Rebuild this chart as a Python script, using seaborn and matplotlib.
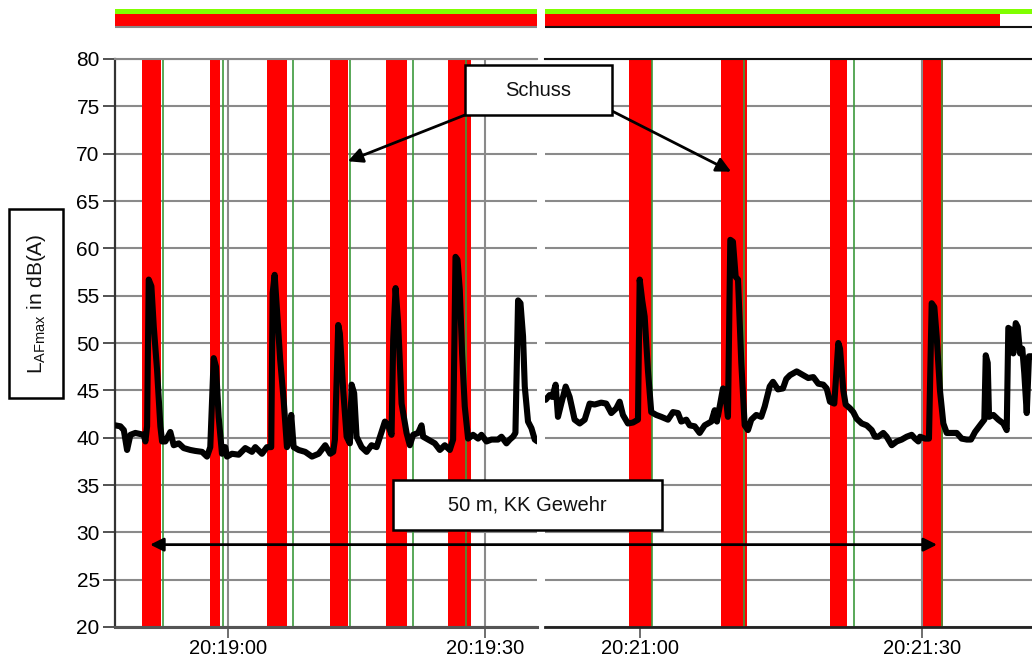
import matplotlib
matplotlib.use("Agg")
import matplotlib.pyplot as plt
import seaborn as sns
from matplotlib.patches import Rectangle, ConnectionPatch

# ---------------- data (seconds relative to the panel's first tick) ----------------
t_left = [-13.16, -12.57, -12.17, -11.79, -11.40, -10.82, -9.84, -9.65, -9.45, -9.26,
          -8.95, -8.67, -8.29, -7.90, -7.70, -7.32, -6.74, -6.34, -5.75, -5.17,
          -4.40, -3.82, -3.03, -2.45, -2.07, -1.67, -1.40, -1.09, -0.70, -0.32,
          -0.12, 0.47, 1.25, 2.02, 2.80, 3.19, 3.97, 4.55, 5.05, 5.22,
          5.45, 5.72, 6.10, 6.50, 6.89, 7.16, 7.39, 7.67, 8.25, 9.02,
          9.81, 10.59, 11.36, 11.94, 12.29, 12.49, 12.88, 13.07, 13.46, 13.86,
          14.24, 14.44, 14.74, 15.02, 15.61, 16.19, 16.77, 17.36, 17.94, 18.33,
          18.71, 19.11, 19.30, 19.58, 19.88, 20.28, 20.86, 21.24, 21.63, 22.21,
          22.61, 22.80, 23.38, 24.16, 24.75, 25.33, 25.91, 26.30, 26.58, 26.81,
          27.08, 27.35, 27.66, 28.05, 28.63, 29.22, 29.61, 30.20, 30.78, 31.55,
          31.95, 32.53, 32.92, 33.30, 33.58, 33.89, 34.17, 34.47, 34.67, 35.05,
          35.45, 35.84, 36.15]
db_left = [41.3, 41.2, 40.8, 38.7, 40.3, 40.5, 40.3, 39.6, 41.2, 56.7,
           56.0, 51.7, 47.2, 41.2, 39.6, 39.6, 40.6, 39.2, 39.4, 38.9,
           38.7, 38.6, 38.5, 38.0, 39.0, 48.4, 47.5, 42.2, 38.3, 39.0,
           38.0, 38.3, 38.2, 38.9, 38.5, 39.0, 38.3, 39.0, 39.0, 55.3,
           57.2, 53.5, 48.2, 44.0, 39.0, 39.8, 42.4, 39.0, 38.7, 38.5,
           38.0, 38.3, 39.2, 38.3, 38.5, 39.8, 51.9, 51.0, 45.0, 40.1,
           39.4, 45.6, 44.7, 40.1, 39.0, 38.5, 39.2, 39.0, 40.6, 41.7,
           41.3, 40.3, 50.3, 55.8, 52.1, 43.6, 40.5, 39.2, 40.3, 40.5,
           41.3, 40.1, 39.8, 39.4, 38.7, 39.2, 38.7, 39.8, 59.1, 58.8,
           55.6, 48.9, 43.3, 39.9, 40.3, 39.9, 40.3, 39.6, 39.8, 39.8,
           40.1, 39.4, 39.8, 40.1, 40.5, 54.5, 54.2, 50.7, 45.4, 41.7,
           41.0, 39.8, 39.6]

t_right = [-10.03, -9.61, -9.33, -8.97, -8.72, -8.37, -7.90, -7.48, -6.95, -6.41,
           -5.88, -5.35, -4.82, -4.12, -3.59, -3.05, -2.52, -2.16, -1.81, -1.28,
           -0.74, -0.21, -0.03, 0.24, 0.50, 0.85, 1.20, 1.73, 2.27, 2.98,
           3.51, 4.04, 4.39, 4.93, 5.29, 5.82, 6.35, 6.88, 7.59, 7.95,
           8.19, 8.83, 9.12, 9.36, 9.61, 9.89, 10.18, 10.43, 10.78, 11.14,
           11.49, 11.84, 12.37, 12.90, 13.27, 13.80, 14.15, 14.68, 15.21, 15.56,
           15.96, 16.67, 17.37, 17.90, 18.44, 18.97, 19.50, 19.86, 20.21, 20.67,
           21.10, 21.28, 21.63, 21.88, 22.34, 22.69, 23.05, 23.59, 24.12, 24.65,
           25.00, 25.35, 25.88, 26.24, 26.78, 27.31, 27.84, 28.37, 28.90, 29.26,
           29.61, 29.79, 30.32, 30.74, 31.03, 31.31, 31.56, 31.91, 32.27, 32.63,
           33.16, 33.69, 34.22, 34.76, 35.21, 35.64, 36.17, 36.63, 36.78, 36.99,
           37.13, 37.59, 38.12, 38.65, 39.01, 39.18, 39.47, 39.71, 39.97, 40.18,
           40.43, 40.67, 40.88, 41.14, 41.38, 41.67]
db_right = [44.0, 44.5, 44.3, 45.6, 42.2, 43.6, 45.4, 44.3, 41.9, 41.5,
            41.9, 43.6, 43.5, 43.7, 43.6, 42.6, 43.1, 43.8, 42.4, 41.5,
            41.6, 41.9, 56.7, 54.5, 52.8, 47.1, 42.7, 42.4, 42.2, 41.9,
            42.7, 42.6, 41.7, 41.9, 41.3, 41.2, 40.5, 41.3, 41.7, 42.9,
            41.7, 45.2, 44.3, 42.2, 60.9, 60.7, 57.0, 56.7, 47.9, 41.3,
            40.8, 41.9, 42.4, 42.2, 43.3, 45.4, 45.9, 45.1, 45.2, 46.2,
            46.6, 47.0, 46.6, 46.3, 46.4, 45.7, 45.6, 45.2, 43.8, 43.6,
            50.0, 49.4, 45.0, 43.5, 43.1, 42.7, 42.0, 41.5, 41.3, 40.8,
            40.1, 40.1, 40.5, 40.1, 39.2, 39.6, 39.8, 40.1, 40.3, 39.9,
            39.6, 40.1, 39.9, 39.9, 54.2, 53.8, 50.7, 45.0, 41.5, 40.5,
            40.5, 40.5, 39.9, 39.8, 39.8, 40.6, 41.3, 41.9, 48.7, 47.9,
            42.2, 42.4, 41.9, 41.5, 40.8, 51.6, 51.4, 48.9, 52.1, 51.7,
            48.9, 49.4, 46.8, 42.6, 48.6, 48.6]

shots_left = [(-10.04, -7.82), (-2.10, -0.93), (4.55, 6.89), (11.91, 14.01), (18.44, 20.89), (25.68, 28.37)]
marks_left = [-7.62, -0.62, 7.55, 14.28, 21.56, 27.86]
shots_right = [(-1.17, 1.24), (8.62, 11.41), (20.21, 21.99), (30.14, 32.20)]
marks_right = [1.28, 11.06, 22.80, 32.16]

ticks_left = [0, 30]
ticklabels_left = ["20:19:00", "20:19:30"]
ticks_right = [0, 30]
ticklabels_right = ["20:21:00", "20:21:30"]
yticks = [20, 25, 30, 35, 40, 45, 50, 55, 60, 65, 70, 75, 80]

xlim_left = (-13.2, 36.1)
xlim_right = (-10.1, 41.7)
status_red_end_right = 38.3

ylabel = r"$\mathregular{L_{AFmax}}$ in dB(A)"
label_shot = "Schuss"
label_setup = "50 m, KK Gewehr"

# ---------------- style ----------------
sns.set_style("white")
plt.rcParams['font.family'] = ['Liberation Sans', 'DejaVu Sans']
plt.rcParams['mathtext.fontset'] = 'custom'
plt.rcParams['mathtext.rm'] = 'Liberation Sans'
plt.rcParams['mathtext.it'] = 'Liberation Sans'

W, H = 1032, 662
fig = plt.figure(figsize=(W / 100, H / 100), dpi=100)
fig.patch.set_facecolor("white")


def fr(x0, y0, x1, y1):
    return [x0 / W, 1 - y1 / H, (x1 - x0) / W, (y1 - y0) / H]


axL = fig.add_axes(fr(115, 59, 537, 627))
axR = fig.add_axes(fr(545, 59, 1032, 627))

grid_col = "#8a8a8a"
for ax, t, d, shots, marks, xl, tk, tkl in [
    (axL, t_left, db_left, shots_left, marks_left, xlim_left, ticks_left, ticklabels_left),
    (axR, t_right, db_right, shots_right, marks_right, xlim_right, ticks_right, ticklabels_right),
]:
    ax.set_axisbelow(True)
    for a, b in shots:
        ax.axvspan(a, b, color="#ff0000", lw=0, zorder=1)
    for m in marks:
        ax.axvline(m, color="#3c9a3c", lw=1.2, zorder=1.5)
    sns.lineplot(x=t, y=d, ax=ax, color="black", lw=4.4, zorder=3, sort=False)
    ax.set_xlim(*xl)
    ax.set_ylim(20, 80)
    ax.set_yticks(yticks)
    ax.set_xticks(tk)
    ax.set_xticklabels(tkl)
    ax.grid(True, color=grid_col, lw=1.5)
    ax.set_xlabel("")
    ax.set_ylabel("")
    ax.tick_params(axis="x", bottom=True, length=8, width=1.2, color="#555555",
                   labelsize=14.5, pad=1, labelcolor="black")
    ax.spines["right"].set_visible(False)

axL.tick_params(axis="y", left=True, length=9, width=1.2, color="#333333",
                labelsize=15, pad=2, labelcolor="black")
axL.spines["left"].set_color("#333333")
axL.spines["left"].set_linewidth(1.6)
axL.spines["bottom"].set_color("#555555")
axL.spines["bottom"].set_linewidth(2.2)
axL.spines["top"].set_color("#888888")
axL.spines["top"].set_linewidth(1.5)

axR.tick_params(axis="y", left=False, labelleft=False)
axR.spines["left"].set_visible(False)
axR.spines["bottom"].set_color("#222222")
axR.spines["bottom"].set_linewidth(2.0)
axR.spines["top"].set_color("#111111")
axR.spines["top"].set_linewidth(1.5)

# ---------------- status bars above the panels ----------------
topL = fig.add_axes(fr(115, 8, 537, 29))
topR = fig.add_axes(fr(545, 8, 1032, 29))
for ax, xl, red_end, line_col in [(topL, xlim_left, xlim_left[1], "#888888"),
                                  (topR, xlim_right, status_red_end_right, "#111111")]:
    ax.set_xlim(*xl)
    ax.set_ylim(29, 8)
    ax.barh(y=11.6, width=xl[1] - xl[0], left=xl[0], height=4.6, color="#80ff00", lw=0)
    ax.barh(y=20.2, width=red_end - xl[0], left=xl[0], height=12.6, color="#ff0000", lw=0)
    ax.axhline(27, color=line_col, lw=1.5)
    ax.axis("off")

# ---------------- boxes and arrows ----------------
def box(x0, y0, x1, y1, text, size, rot=0):
    fig.add_artist(Rectangle((x0 / W, 1 - y1 / H), (x1 - x0) / W, (y1 - y0) / H,
                             transform=fig.transFigure, facecolor="white",
                             edgecolor="black", lw=1.8, zorder=5))
    fig.text((x0 + x1) / 2 / W, 1 - (y0 + y1) / 2 / H, text, ha="center", va="center",
             fontsize=size, rotation=rot, zorder=6, color="#111111")


box(9, 209, 63, 398, ylabel, 15, rot=90)

arrow_kw = dict(arrowstyle="-|>", color="black", lw=2, mutation_scale=22,
                shrinkA=0, shrinkB=0)
axL.annotate("", xy=(14.0, 69.2), xycoords="data",
             xytext=(465 / W, 1 - 115 / H), textcoords="figure fraction",
             arrowprops=arrow_kw, zorder=4)
axR.annotate("", xy=(9.7, 68.1), xycoords="data",
             xytext=(612 / W, 1 - 111 / H), textcoords="figure fraction",
             arrowprops=arrow_kw, zorder=4, annotation_clip=False)
box(465, 65, 612, 115, label_shot, 14.5)

con = ConnectionPatch(xyA=(-9.1, 28.7), coordsA=axL.transData,
                      xyB=(31.6, 28.7), coordsB=axR.transData,
                      arrowstyle="<|-|>", mutation_scale=20, lw=2,
                      color="black", shrinkA=0, shrinkB=0, zorder=4)
fig.add_artist(con)
box(393, 480, 662, 530, label_setup, 14.5)

fig.savefig("out.png", dpi=100)
